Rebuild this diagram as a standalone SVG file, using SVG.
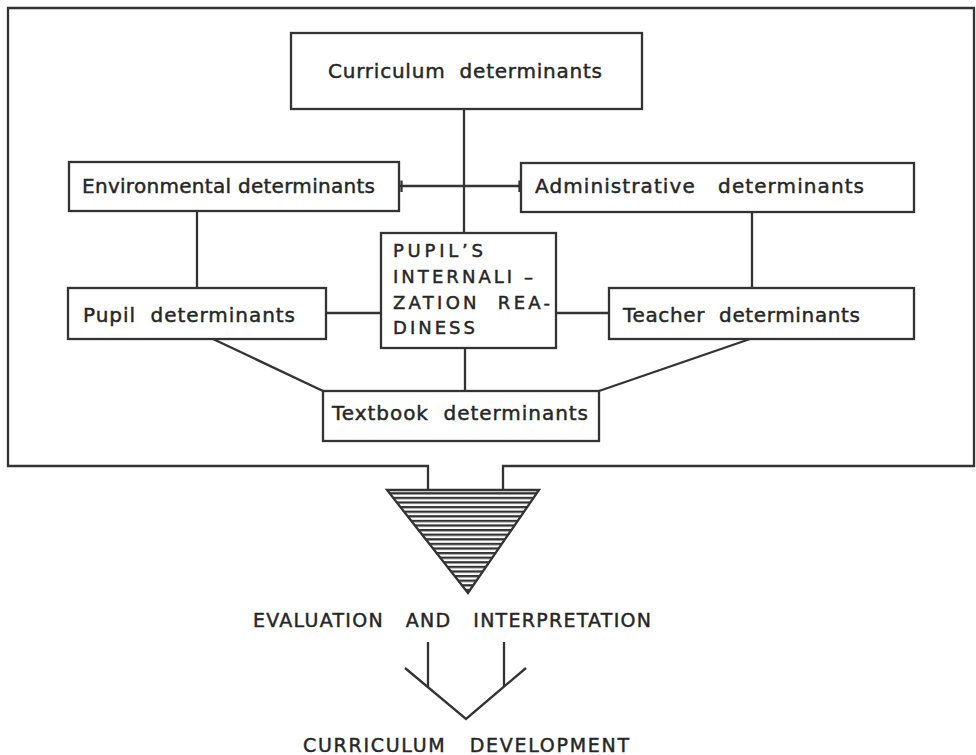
<svg xmlns="http://www.w3.org/2000/svg" width="976" height="755" viewBox="0 0 976 755">
<style>
.box{fill:#fff;stroke:#333;stroke-width:2.3}
.ln{fill:none;stroke:#333;stroke-width:2.3}
.t{font-family:"DejaVu Sans","Liberation Sans",sans-serif;font-size:20px;fill:#262626;stroke:#262626;stroke-width:0.45;white-space:pre}
.c{font-family:"DejaVu Sans","Liberation Sans",sans-serif;font-size:18px;fill:#262626;stroke:#262626;stroke-width:0.45;white-space:pre}
.cap{font-family:"DejaVu Sans","Liberation Sans",sans-serif;font-size:19px;fill:#262626;stroke:#262626;stroke-width:0.45;white-space:pre}
</style>
<defs>
<pattern id="hatch" patternUnits="userSpaceOnUse" width="10" height="4.6">
<rect x="0" y="0" width="10" height="2.3" fill="#333"/>
</pattern>
<clipPath id="tri"><polygon points="387,490 539,490 468,593"/></clipPath>
</defs>
<rect width="976" height="755" fill="#fff"/>
<g id="frame">
<path class="ln" d="M428,490 V466 H8 V8 H974 V466 H503 V490"/>
</g>
<g id="connectors">
<line class="ln" x1="464" y1="109" x2="464" y2="233"/>
<line class="ln" x1="400" y1="186" x2="521" y2="186"/>
<line class="ln" x1="401.5" y1="180.5" x2="401.5" y2="192"/>
<line class="ln" x1="519.5" y1="180.5" x2="519.5" y2="192"/>
<line class="ln" x1="197" y1="211" x2="197" y2="288"/>
<line class="ln" x1="752" y1="212" x2="752" y2="288"/>
<line class="ln" x1="326" y1="313" x2="381" y2="313"/>
<line class="ln" x1="556" y1="313" x2="609" y2="313"/>
<line class="ln" x1="465" y1="348" x2="465" y2="391"/>
<line class="ln" x1="213" y1="339" x2="323" y2="391"/>
<line class="ln" x1="750" y1="339" x2="599" y2="391"/>
<line class="ln" x1="428" y1="642" x2="428" y2="687"/>
<line class="ln" x1="504" y1="642" x2="504" y2="687"/>
<polyline class="ln" points="405,668 466,719 526,668"/>
</g>
<g id="curriculum">
<rect class="box" x="291" y="33" width="351" height="76"/>
<text class="t" x="328" y="78" textLength="274" lengthAdjust="spacing">Curriculum  determinants</text>
</g>
<g id="environmental">
<rect class="box" x="69" y="162" width="330" height="49"/>
<text class="t" x="82" y="193" textLength="293" lengthAdjust="spacing">Environmental determinants</text>
</g>
<g id="administrative">
<rect class="box" x="521" y="163" width="393" height="49"/>
<text class="t" x="535" y="193" textLength="329" lengthAdjust="spacing">Administrative   determinants</text>
</g>
<g id="pupil">
<rect class="box" x="68" y="288" width="258" height="51"/>
<text class="t" x="83" y="322" textLength="212" lengthAdjust="spacing">Pupil  determinants</text>
</g>
<g id="teacher">
<rect class="box" x="609" y="288" width="305" height="51"/>
<text class="t" x="623" y="322" textLength="237" lengthAdjust="spacing">Teacher  determinants</text>
</g>
<g id="readiness">
<rect class="box" x="381" y="233" width="175" height="115"/>
<text class="c" x="393" y="257" textLength="90" lengthAdjust="spacing">PUPIL’S</text>
<text class="c" x="393" y="283" textLength="140" lengthAdjust="spacing">INTERNALI –</text>
<text class="c" x="393" y="309" textLength="157" lengthAdjust="spacing">ZATION  REA-</text>
<text class="c" x="393" y="334" textLength="82" lengthAdjust="spacing">DINESS</text>
</g>
<g id="textbook">
<rect class="box" x="323" y="391" width="276" height="50"/>
<text class="t" x="332" y="420" textLength="256" lengthAdjust="spacing">Textbook  determinants</text>
</g>
<g id="funnel">
<polygon points="387,490 539,490 468,593" fill="#fff"/>
<rect x="380" y="491" width="170" height="110" fill="url(#hatch)" clip-path="url(#tri)"/>
<polygon class="ln" points="387,490 539,490 468,593"/>
</g>
<g id="evaluation">
<text class="cap" x="253" y="627" textLength="398" lengthAdjust="spacing">EVALUATION   AND   INTERPRETATION</text>
</g>
<g id="development">
<text class="cap" x="303" y="752" textLength="326" lengthAdjust="spacing">CURRICULUM   DEVELOPMENT</text>
</g>
</svg>
